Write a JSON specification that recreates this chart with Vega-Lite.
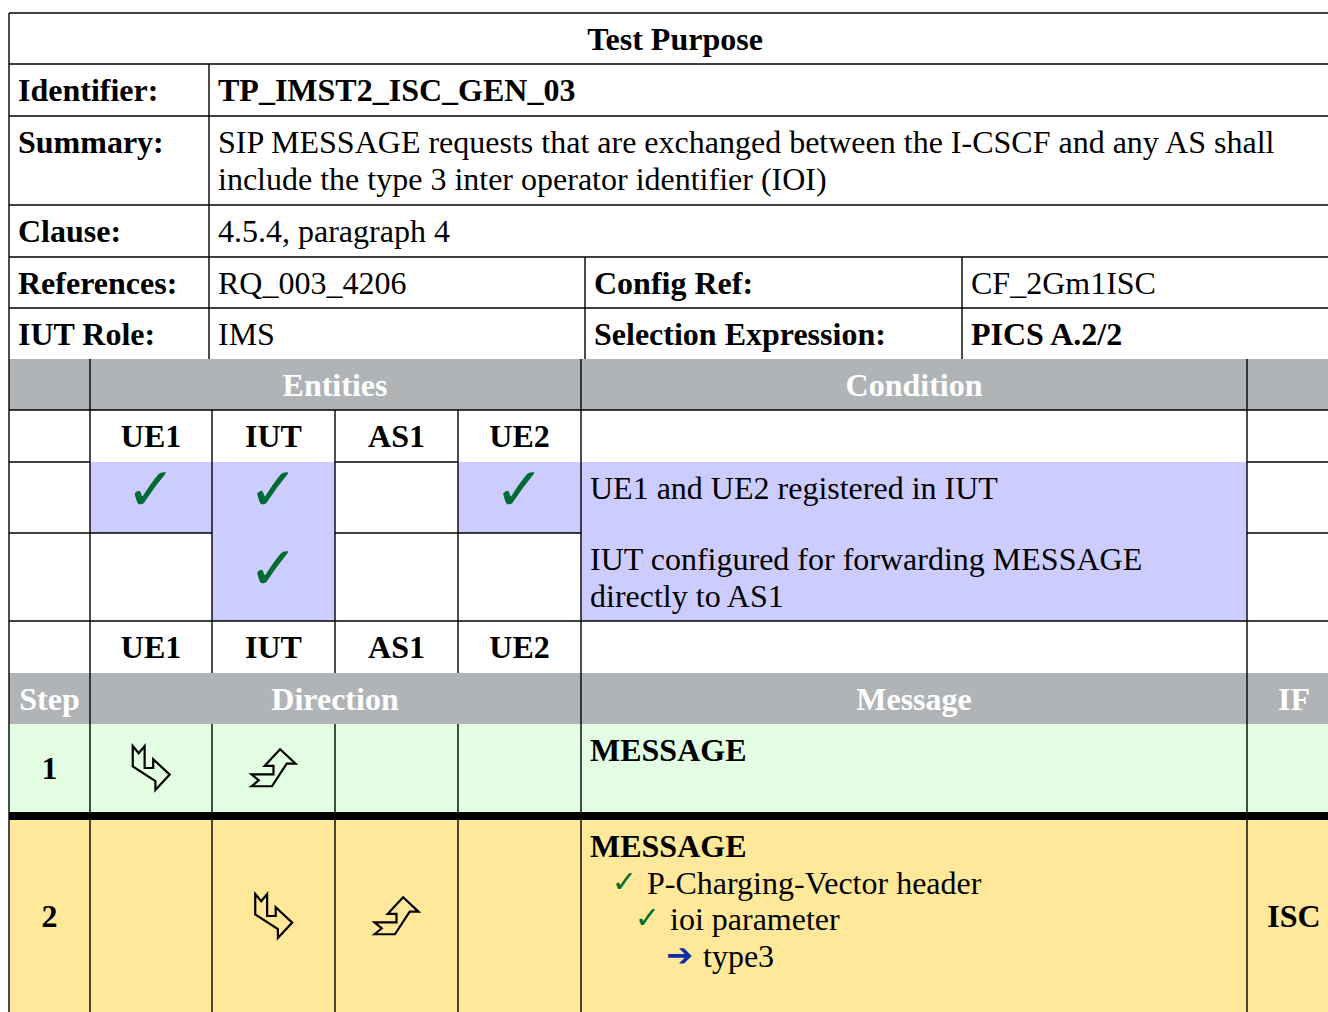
{
  "$schema": "https://vega.github.io/schema/vega-lite/v6.json",
  "width": 1328,
  "height": 1012,
  "autosize": "none",
  "padding": 0,
  "background": "white",
  "config": {"view": {"stroke": null}},
  "datasets": {
    "cells": [
      {"col": 0, "col2": 21, "row": 6, "row2": 7, "kind": "header"},
      {"col": 0, "col2": 21, "row": 11, "row2": 12, "kind": "header"},
      {"col": 2, "col2": 5, "row": 8, "row2": 9, "kind": "precondition"},
      {"col": 5, "col2": 7, "row": 8, "row2": 10, "kind": "precondition"},
      {"col": 9, "col2": 11, "row": 8, "row2": 9, "kind": "precondition"},
      {"col": 11, "col2": 19, "row": 8, "row2": 10, "kind": "precondition"},
      {"col": 0, "col2": 21, "row": 12, "row2": 13, "kind": "stimulus"},
      {"col": 0, "col2": 21, "row": 13, "row2": 14, "kind": "separator"},
      {"col": 0, "col2": 21, "row": 14, "row2": 19, "kind": "verification"}
    ],
    "lines": [
      {"col": 0, "col2": 21, "row": 0, "row2": 0},
      {"col": 0, "col2": 21, "row": 1, "row2": 1},
      {"col": 0, "col2": 21, "row": 2, "row2": 2},
      {"col": 0, "col2": 21, "row": 3, "row2": 3},
      {"col": 0, "col2": 21, "row": 4, "row2": 4},
      {"col": 0, "col2": 21, "row": 5, "row2": 5},
      {"col": 0, "col2": 21, "row": 7, "row2": 7},
      {"col": 0, "col2": 2, "row": 8, "row2": 8},
      {"col": 7, "col2": 9, "row": 8, "row2": 8},
      {"col": 19, "col2": 21, "row": 8, "row2": 8},
      {"col": 0, "col2": 5, "row": 9, "row2": 9},
      {"col": 7, "col2": 11, "row": 9, "row2": 9},
      {"col": 19, "col2": 21, "row": 9, "row2": 9},
      {"col": 0, "col2": 21, "row": 10, "row2": 10},
      {"col": 0, "col2": 0, "row": 0, "row2": 19},
      {"col": 4, "col2": 4, "row": 1, "row2": 6},
      {"col": 12, "col2": 12, "row": 4, "row2": 6},
      {"col": 18, "col2": 18, "row": 4, "row2": 6},
      {"col": 2, "col2": 2, "row": 6, "row2": 19},
      {"col": 5, "col2": 5, "row": 7, "row2": 11},
      {"col": 7, "col2": 7, "row": 7, "row2": 11},
      {"col": 9, "col2": 9, "row": 7, "row2": 11},
      {"col": 5, "col2": 5, "row": 12, "row2": 19},
      {"col": 7, "col2": 7, "row": 12, "row2": 19},
      {"col": 9, "col2": 9, "row": 12, "row2": 19},
      {"col": 11, "col2": 11, "row": 6, "row2": 19},
      {"col": 19, "col2": 19, "row": 6, "row2": 19}
    ],
    "texts": [
      {"col": 15, "row": 0.5, "role": "center", "text": "Test Purpose"},
      {"col": 0, "row": 1.5, "role": "field", "text": "Identifier:"},
      {"col": 4, "row": 1.5, "role": "field", "text": "TP_IMST2_ISC_GEN_03"},
      {"col": 0, "row": 2, "role": "fieldTop", "text": "Summary:"},
      {"col": 4, "row": 2, "role": "valueTop", "text": "SIP MESSAGE requests that are exchanged between the I-CSCF and any AS shall\ninclude the type 3 inter operator identifier (IOI)"},
      {"col": 0, "row": 3.5, "role": "field", "text": "Clause:"},
      {"col": 4, "row": 3.5, "role": "value", "text": "4.5.4, paragraph 4"},
      {"col": 0, "row": 4.5, "role": "field", "text": "References:"},
      {"col": 4, "row": 4.5, "role": "value", "text": "RQ_003_4206"},
      {"col": 12, "row": 4.5, "role": "field", "text": "Config Ref:"},
      {"col": 18, "row": 4.5, "role": "value", "text": "CF_2Gm1ISC"},
      {"col": 0, "row": 5.5, "role": "field", "text": "IUT Role:"},
      {"col": 4, "row": 5.5, "role": "value", "text": "IMS"},
      {"col": 12, "row": 5.5, "role": "field", "text": "Selection Expression:"},
      {"col": 18, "row": 5.5, "role": "field", "text": "PICS A.2/2"},
      {"col": 7, "row": 6.5, "role": "header", "text": "Entities"},
      {"col": 17, "row": 6.5, "role": "header", "text": "Condition"},
      {"col": 3, "row": 7.5, "role": "center", "text": "UE1"},
      {"col": 6, "row": 7.5, "role": "center", "text": "IUT"},
      {"col": 8, "row": 7.5, "role": "center", "text": "AS1"},
      {"col": 10, "row": 7.5, "role": "center", "text": "UE2"},
      {"col": 3, "row": 8.5, "role": "entity", "text": "✓"},
      {"col": 6, "row": 8.5, "role": "entity", "text": "✓"},
      {"col": 10, "row": 8.5, "role": "entity", "text": "✓"},
      {"col": 11, "row": 8, "role": "valueTop", "text": "UE1 and UE2 registered in IUT"},
      {"col": 6, "row": 9.5, "role": "entity", "text": "✓"},
      {"col": 11, "row": 9, "role": "valueTop", "text": "IUT configured for forwarding MESSAGE\ndirectly to AS1"},
      {"col": 3, "row": 10.5, "role": "center", "text": "UE1"},
      {"col": 6, "row": 10.5, "role": "center", "text": "IUT"},
      {"col": 8, "row": 10.5, "role": "center", "text": "AS1"},
      {"col": 10, "row": 10.5, "role": "center", "text": "UE2"},
      {"col": 1, "row": 11.5, "role": "header", "text": "Step"},
      {"col": 7, "row": 11.5, "role": "header", "text": "Direction"},
      {"col": 17, "row": 11.5, "role": "header", "text": "Message"},
      {"col": 20, "row": 11.5, "role": "header", "text": "IF"},
      {"col": 1, "row": 12.5, "role": "center", "text": "1"},
      {"col": 11, "row": 12, "role": "fieldTop", "text": "MESSAGE"},
      {"col": 1, "row": 17, "role": "center", "text": "2"},
      {"col": 11, "row": 14, "role": "fieldTop", "text": "MESSAGE"},
      {"col": 13, "row": 15, "role": "valueTop", "text": "P-Charging-Vector header"},
      {"col": 13, "row": 15, "role": "present", "text": "✓"},
      {"col": 14, "row": 16, "role": "valueTop", "text": "ioi parameter"},
      {"col": 14, "row": 16, "role": "present", "text": "✓"},
      {"col": 16, "row": 18, "role": "valueTop", "text": "type3"},
      {"col": 16, "row": 18, "role": "setTo", "text": "➔"},
      {"col": 20, "row": 17, "role": "center", "text": "ISC"}
    ],
    "arrows": [
      {"col": 3, "row": 12.5, "dir": "send"},
      {"col": 6, "row": 12.5, "dir": "receive"},
      {"col": 6, "row": 17, "dir": "send"},
      {"col": 8, "row": 17, "dir": "receive"}
    ]
  },
  "encoding": {
    "x": {
      "field": "col",
      "type": "quantitative",
      "axis": null,
      "scale": {
        "domain": [0, 1, 2, 3, 4, 5, 6, 7, 8, 9, 10, 11, 12, 13, 14, 15, 16, 17, 18, 19, 20, 21],
        "range": [9, 49.5, 90, 151, 209, 212, 273.5, 335, 396.5, 458, 519.5, 581, 585, 638, 661, 675, 694, 914, 962, 1247, 1294, 1341],
        "nice": false,
        "zero": false
      }
    },
    "y": {
      "field": "row",
      "type": "quantitative",
      "axis": null,
      "scale": {
        "domain": [0, 1, 2, 3, 4, 5, 6, 7, 8, 9, 10, 11, 12, 13, 14, 15, 16, 17, 18, 19],
        "range": [13, 64, 116, 205, 257, 308, 359, 410, 462, 533, 621, 673, 724, 812, 820, 856.5, 893, 916, 929.5, 1012],
        "nice": false,
        "zero": false
      }
    }
  },
  "layer": [
    {
      "data": {"name": "cells"},
      "mark": {"type": "rect", "stroke": null},
      "encoding": {
        "x2": {"field": "col2"},
        "y2": {"field": "row2"},
        "color": {
          "field": "kind",
          "type": "nominal",
          "legend": null,
          "scale": {
            "domain": ["header", "precondition", "stimulus", "separator", "verification"],
            "range": ["#B1B4B7", "#CCCCFF", "#E3FDE3", "#000000", "#FFE899"]
          }
        }
      }
    },
    {
      "data": {"name": "lines"},
      "mark": {"type": "rule", "color": "#000000", "strokeWidth": 1.4},
      "encoding": {
        "x2": {"field": "col2"},
        "y2": {"field": "row2"}
      }
    },
    {
      "data": {"name": "arrows"},
      "mark": {"type": "point", "filled": false, "stroke": "#000000", "strokeWidth": 2.2, "size": 1936, "opacity": 1},
      "encoding": {
        "shape": {
          "field": "dir",
          "type": "nominal",
          "legend": null,
          "scale": {
            "domain": ["send", "receive"],
            "range": [
              "M-0.83,-1L-0.56,-0.67L-0.29,-1L-0.29,0L0.1,0L0.1,-0.4L0.85,0.3L0.2,1L0.2,0.6L-0.83,-0.07Z",
              "M-1,0.83L-0.67,0.56L-1,0.29L0,0.29L0,-0.1L-0.4,-0.1L0.3,-0.85L1,-0.2L0.6,-0.2L-0.07,0.83Z"
            ]
          }
        }
      }
    },
    {
      "data": {"name": "texts"},
      "transform": [{"filter": {"field": "role", "equal": "center"}}],
      "mark": {"type": "text", "align": "center", "baseline": "middle", "dy": 1, "font": "Liberation Serif", "fontWeight": "bold", "fontSize": 32, "color": "#000000"},
      "encoding": {"text": {"field": "text"}}
    },
    {
      "data": {"name": "texts"},
      "transform": [{"filter": {"field": "role", "equal": "header"}}],
      "mark": {"type": "text", "align": "center", "baseline": "middle", "dy": 1, "font": "Liberation Serif", "fontWeight": "bold", "fontSize": 32, "color": "#FFFFFF"},
      "encoding": {"text": {"field": "text"}}
    },
    {
      "data": {"name": "texts"},
      "transform": [{"filter": {"field": "role", "equal": "field"}}],
      "mark": {"type": "text", "align": "left", "baseline": "middle", "dx": 9, "dy": 1, "font": "Liberation Serif", "fontWeight": "bold", "fontSize": 32, "color": "#000000"},
      "encoding": {"text": {"field": "text"}}
    },
    {
      "data": {"name": "texts"},
      "transform": [{"filter": {"field": "role", "equal": "value"}}],
      "mark": {"type": "text", "align": "left", "baseline": "middle", "dx": 9, "dy": 1, "font": "Liberation Serif", "fontSize": 32, "color": "#000000"},
      "encoding": {"text": {"field": "text"}}
    },
    {
      "data": {"name": "texts"},
      "transform": [{"filter": {"field": "role", "equal": "fieldTop"}}],
      "mark": {"type": "text", "align": "left", "baseline": "alphabetic", "dx": 9, "dy": 37, "font": "Liberation Serif", "fontWeight": "bold", "fontSize": 32, "color": "#000000"},
      "encoding": {"text": {"field": "text"}}
    },
    {
      "data": {"name": "texts"},
      "transform": [{"filter": {"field": "role", "equal": "valueTop"}}],
      "mark": {"type": "text", "align": "left", "baseline": "alphabetic", "dx": 9, "dy": 37, "lineBreak": "\n", "lineHeight": 36.5, "font": "Liberation Serif", "fontSize": 32, "color": "#000000"},
      "encoding": {"text": {"field": "text"}}
    },
    {
      "data": {"name": "texts"},
      "transform": [{"filter": {"field": "role", "equal": "present"}}],
      "mark": {"type": "text", "align": "right", "baseline": "alphabetic", "dx": -1, "dy": 35, "font": "DejaVu Sans", "fontWeight": "bold", "fontSize": 30, "color": "#007033"},
      "encoding": {"text": {"field": "text"}}
    },
    {
      "data": {"name": "texts"},
      "transform": [{"filter": {"field": "role", "equal": "setTo"}}],
      "mark": {"type": "text", "align": "right", "baseline": "alphabetic", "dx": -1, "dy": 36, "font": "DejaVu Sans", "fontWeight": "bold", "fontSize": 32, "color": "#0A2DA8"},
      "encoding": {"text": {"field": "text"}}
    },
    {
      "data": {"name": "texts"},
      "transform": [{"filter": {"field": "role", "equal": "entity"}}],
      "mark": {"type": "text", "align": "center", "baseline": "middle", "dy": -6, "font": "DejaVu Sans", "fontWeight": "bold", "fontSize": 60, "color": "#006B33"},
      "encoding": {"text": {"field": "text"}}
    }
  ]
}
